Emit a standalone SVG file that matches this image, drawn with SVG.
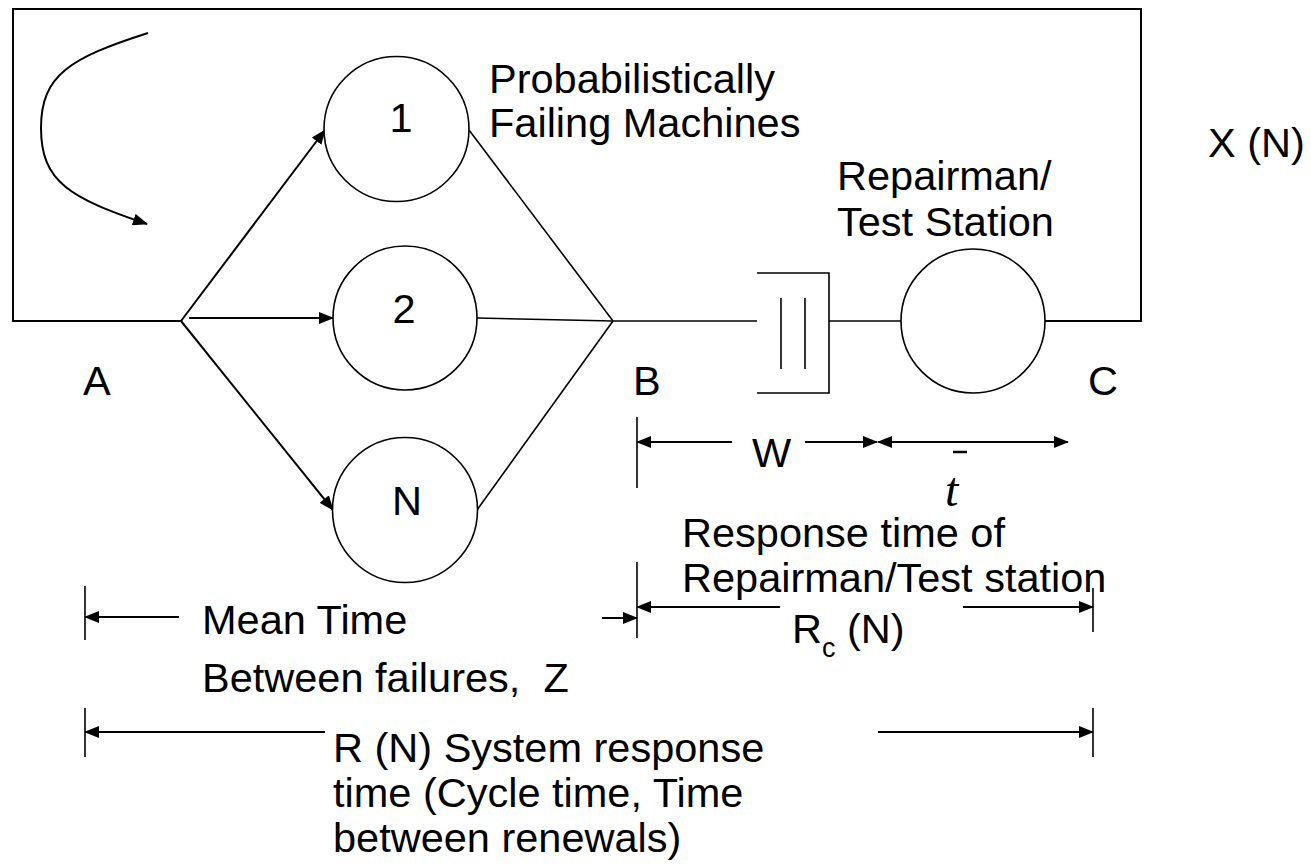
<svg xmlns="http://www.w3.org/2000/svg" width="1311" height="868" viewBox="0 0 1311 868">
  <style>
    .lbl { font-family: "Liberation Sans", Arial, sans-serif; font-size: 41.5px; fill: #000; }
    .node { fill: #fff; stroke: #000; stroke-width: 1.6; }
    .wire { fill: none; stroke: #000; stroke-width: 1.6; }
    .loop { fill: none; stroke: #000; stroke-width: 2; }
    .arr { fill: none; stroke: #000; stroke-width: 2; marker-end: url(#head); }
    .tick { stroke: #000; stroke-width: 1.6; }
  </style>
  <defs>
    <marker id="head" markerUnits="userSpaceOnUse" markerWidth="16" markerHeight="12" refX="14" refY="6" orient="auto">
      <path d="M0,0 L15,6 L0,12 z" fill="#000"/>
    </marker>
  </defs>
  <rect width="1311" height="868" fill="#fff"/>

  <!-- connectors -->
  <g id="connectors">
    <!-- closed loop back to A -->
    <polyline class="loop" points="181,321 13,321 13,9 1141,9 1141,321 1045,321"/>
    <!-- circulation hint -->
    <path class="arr" d="M148,33 C70,58 41,75 41,128 C41,182 70,198 147,224"/>
    <!-- A fan-out to machines -->
    <line class="arr" x1="181" y1="321" x2="325" y2="130"/>
    <line class="arr" x1="189" y1="318" x2="333" y2="318"/>
    <line class="arr" x1="181" y1="321" x2="333" y2="510"/>
    <!-- machines fan-in to B -->
    <line class="wire" x1="469" y1="130" x2="613" y2="321"/>
    <line class="wire" x1="477" y1="318" x2="613" y2="321"/>
    <line class="wire" x1="477" y1="510" x2="613" y2="321"/>
    <!-- B to queue, queue to server -->
    <line class="wire" x1="613" y1="321" x2="757" y2="321"/>
    <line class="wire" x1="829" y1="321" x2="901" y2="321"/>
  </g>

  <!-- machines -->
  <g id="machine-1">
    <circle class="node" cx="396.5" cy="129" r="72.5"/>
    <text class="lbl" x="401" y="132" text-anchor="middle">1</text>
  </g>
  <g id="machine-2">
    <circle class="node" cx="405" cy="318" r="72"/>
    <text class="lbl" x="404" y="323" text-anchor="middle">2</text>
  </g>
  <g id="machine-n">
    <circle class="node" cx="405" cy="510" r="72.5"/>
    <text class="lbl" x="407" y="515" text-anchor="middle">N</text>
  </g>

  <!-- queue at the repair station -->
  <g id="queue">
    <path class="wire" d="M757,273 H829 V393 H757"/>
    <line class="tick" x1="781" y1="298" x2="781" y2="369"/>
    <line class="tick" x1="805" y1="298" x2="805" y2="369"/>
  </g>

  <!-- repairman / test station server -->
  <g id="server">
    <circle class="node" cx="973" cy="321" r="72"/>
  </g>

  <!-- captions -->
  <g id="captions">
    <text class="lbl" x="489" y="93">Probabilistically</text>
    <text class="lbl" x="489" y="137">Failing Machines</text>
    <text class="lbl" x="837" y="190">Repairman/</text>
    <text class="lbl" x="837" y="236">Test Station</text>
    <text class="lbl" x="1208" y="157">X (N)</text>
    <text class="lbl" x="83" y="395">A</text>
    <text class="lbl" x="633" y="395">B</text>
    <text class="lbl" x="1088" y="395">C</text>
  </g>

  <!-- dimension: W and t -->
  <g id="dim-w-t">
    <line class="tick" x1="637" y1="417" x2="637" y2="488"/>
    <line class="arr" x1="732" y1="442" x2="637" y2="442"/>
    <line class="arr" x1="805" y1="442" x2="877" y2="442"/>
    <line class="arr" x1="970" y1="442" x2="878" y2="442"/>
    <line class="arr" x1="970" y1="442" x2="1068" y2="442"/>
    <text class="lbl" x="752" y="467">W</text>
    <line x1="953" y1="452" x2="967" y2="452" stroke="#000" stroke-width="2.5"/>
    <text x="945" y="506" font-family="'Liberation Serif', 'Times New Roman', serif" font-style="italic" font-size="48">t</text>
  </g>

  <!-- dimension: Rc(N) -->
  <g id="dim-rc">
    <text class="lbl" x="682" y="547">Response time of</text>
    <text class="lbl" x="682" y="592">Repairman/Test station</text>
    <line class="tick" x1="637" y1="562" x2="637" y2="638"/>
    <line class="tick" x1="1093" y1="588" x2="1093" y2="632"/>
    <line class="arr" x1="780" y1="607" x2="637" y2="607"/>
    <line class="arr" x1="963" y1="607" x2="1093" y2="607"/>
    <text class="lbl" x="792" y="643">R<tspan font-size="27" dy="14">c</tspan><tspan dy="-14"> (N)</tspan></text>
  </g>

  <!-- dimension: Z -->
  <g id="dim-z">
    <line class="tick" x1="85" y1="586" x2="85" y2="640"/>
    <line class="arr" x1="179" y1="617" x2="85" y2="617"/>
    <line class="arr" x1="602" y1="618" x2="637" y2="618"/>
    <text class="lbl" x="202" y="634">Mean Time</text>
    <text class="lbl" x="202" y="692" xml:space="preserve">Between failures,  Z</text>
  </g>

  <!-- dimension: R(N) -->
  <g id="dim-r">
    <line class="tick" x1="85" y1="708" x2="85" y2="757"/>
    <line class="tick" x1="1093" y1="708" x2="1093" y2="757"/>
    <line class="arr" x1="325" y1="732" x2="85" y2="732"/>
    <line class="arr" x1="878" y1="732" x2="1093" y2="732"/>
    <text class="lbl" x="333" y="762">R (N) System response</text>
    <text class="lbl" x="333" y="807">time (Cycle time, Time</text>
    <text class="lbl" x="333" y="852">between renewals)</text>
  </g>
</svg>
